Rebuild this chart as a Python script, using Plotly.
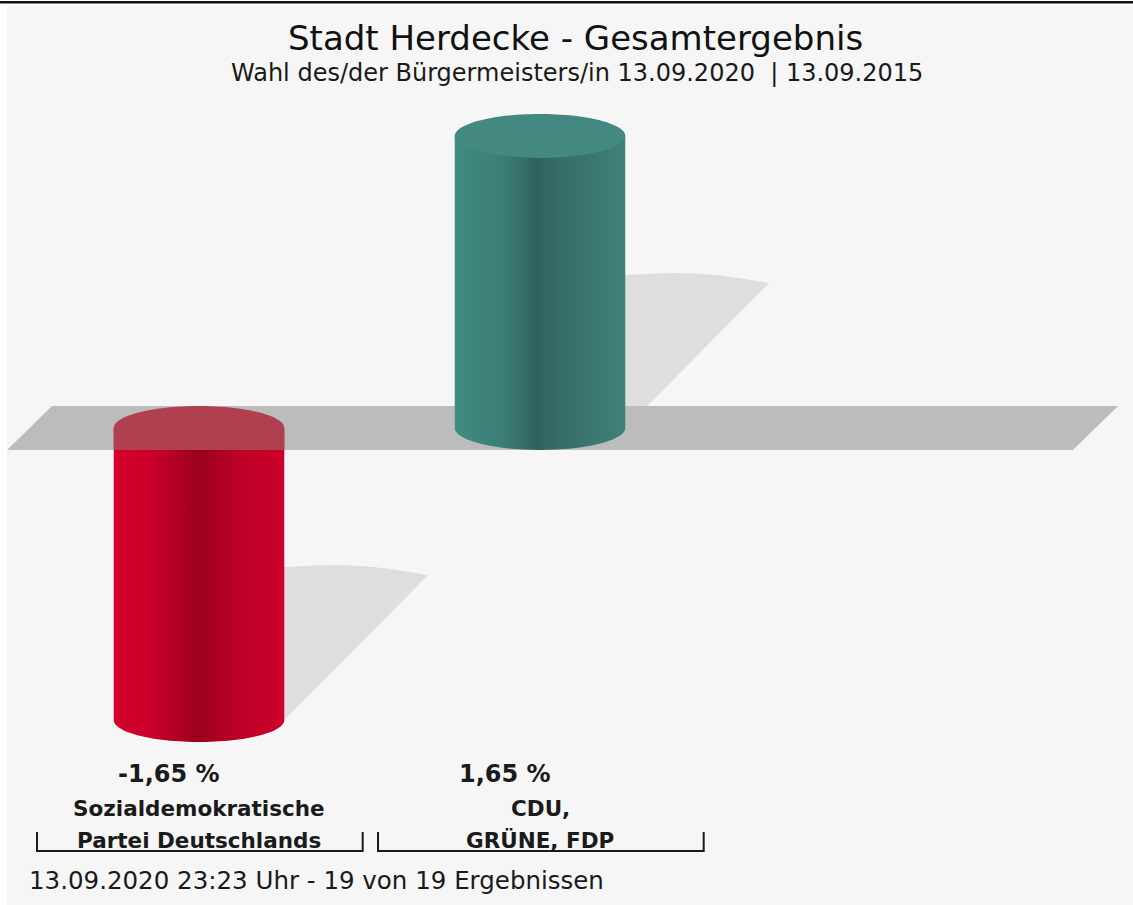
import numpy as np
import plotly.graph_objects as go

W, H = 1133, 905

title = "Stadt Herdecke - Gesamtergebnis"
subtitle = "Wahl des/der Bürgermeisters/in 13.09.2020\u00a0 | 13.09.2015"
footer = "13.09.2020 23:23 Uhr - 19 von 19 Ergebnissen"

# parties (label lines), change vs. 2015 in percentage points
party_lines = [["Sozialdemokratische", "Partei Deutschlands"], ["CDU,", "GRÜNE, FDP"]]
diff_values = [-1.65, 1.65]
value_labels = ["-1,65 %", "1,65 %"]

body_scales = [
    [[0, "#d3002b"], [0.2, "#cc0029"], [0.5, "#9b001f"], [0.75, "#bd0026"], [1, "#cd0029"]],
    [[0, "#418c83"], [0.3, "#3a7c74"], [0.48, "#2f625e"], [0.62, "#356d68"], [1, "#40817a"]],
]
cap_colors = ["#b0404f", "#438981"]

# axis ranges chosen so 1 category step ~341px and 1 %-point ~177px
X_RANGE = [-0.5836, 2.739]
Y_RANGE = [-2.695, 2.418]

RX, RY = 0.25, 0.124          # cylinder radius / ellipse half height
PLANE_X = (-0.563, 2.563)      # front edge of the zero plane
PLANE_DX = 0.132               # depth offset of the plane
SH_W, SH_TL, SH_TR = 0.422, 0.864, 0.819


def py(px):
    return 1 - px / H


fig = go.Figure()
t_low = np.linspace(np.pi, 2 * np.pi, 60)
t_top = np.linspace(0, np.pi, 60)
t_all = np.linspace(0, 2 * np.pi, 120)

# shadows behind the cylinders
for i, v in enumerate(diff_values):
    xr = i + RX
    lo = min(0, v)
    s = np.linspace(0, 1, 30)
    ax = xr + SH_W * s
    ay = lo + SH_TL + (SH_TR - SH_TL) * s + 0.03 * np.sin(np.pi * s)
    xs = [xr - 0.03] + list(ax) + [xr, xr - 0.03]
    ys = [lo + SH_TL] + list(ay) + [lo, lo]
    fig.add_trace(go.Scatter(x=xs, y=ys, fill="toself", fillcolor="#dedede",
                             mode="none", hoverinfo="skip"))

# zero plane
fig.add_trace(go.Scatter(
    x=[PLANE_X[0], PLANE_X[1], PLANE_X[1] + PLANE_DX, PLANE_X[0] + PLANE_DX, PLANE_X[0]],
    y=[-RY, -RY, RY, RY, -RY],
    fill="toself", fillcolor="#bcbcbc", mode="none", hoverinfo="skip"))

# cylinders
for i, v in enumerate(diff_values):
    up, lo = max(0, v), min(0, v)
    xs = [i - RX, i - RX] + list(i + RX * np.cos(t_low)) + [i + RX, i - RX]
    ys = [up, lo] + list(lo + RY * np.sin(t_low)) + [up, up]
    fig.add_trace(go.Scatter(x=xs, y=ys, fill="toself", mode="none",
                             fillgradient=dict(type="horizontal", colorscale=body_scales[i]),
                             hoverinfo="skip"))
    if v > 0:
        cx = list(i + RX * np.cos(t_all))
        cy = list(up + RY * np.sin(t_all))
    else:
        cx = list(i + RX * np.cos(t_top)) + [i - RX, i + RX, i + RX]
        cy = list(RY * np.sin(t_top)) + [-RY, -RY, 0]
    fig.add_trace(go.Scatter(x=cx, y=cy, fill="toself", fillcolor=cap_colors[i],
                             mode="none", hoverinfo="skip"))

# brackets under the party names
bx, by = [], []
y_line, y_tick = (428 - 851) / 177, (428 - 832) / 177
for i in range(len(diff_values)):
    bx += [i - 0.475, i - 0.475, i + 0.48, i + 0.48, None]
    by += [y_tick, y_line, y_line, y_tick, None]
fig.add_trace(go.Scatter(x=bx, y=by, mode="lines", line=dict(color="#1a1a1a", width=2),
                         hoverinfo="skip"))

font = "DejaVu Sans, Liberation Sans, Arial"
ann = [
    dict(text=title, xref="paper", yref="paper", x=575 / W, y=py(38),
         font=dict(size=34, color="#111111")),
    dict(text=subtitle, xref="paper", yref="paper", x=577 / W, y=py(73),
         font=dict(size=24, color="#1a1a1a")),
    dict(text=footer, xref="paper", yref="paper", x=27 / W, y=py(880), xanchor="left",
         font=dict(size=24.5, color="#1a1a1a")),
]
for i, v in enumerate(diff_values):
    ann.append(dict(text=value_labels[i], xref="x", yref="paper", x=i - RX + 0.006,
                    y=py(774), xanchor="left",
                    font=dict(size=24, color="#1a1a1a", weight="bold")))
    for k, line in enumerate(party_lines[i]):
        ann.append(dict(text=line, xref="x", yref="paper", x=i, y=py(808 + 32 * k),
                        font=dict(size=21.5, color="#1a1a1a", weight="bold")))
for a in ann:
    a.setdefault("xanchor", "center")
    a["yanchor"] = "middle"
    a["showarrow"] = False
    a["font"]["family"] = font

fig.update_layout(
    width=W, height=H,
    margin=dict(l=0, r=0, t=0, b=0),
    paper_bgcolor="#f6f6f6", plot_bgcolor="#f6f6f6",
    showlegend=False,
    annotations=ann,
    xaxis=dict(range=X_RANGE, visible=False, fixedrange=True),
    yaxis=dict(range=Y_RANGE, visible=False, fixedrange=True),
    shapes=[
        dict(type="rect", xref="paper", yref="paper", x0=0, x1=7 / W, y0=0, y1=1,
             fillcolor="white", line_width=0),
        dict(type="rect", xref="paper", yref="paper", x0=0, x1=1, y0=py(6), y1=1,
             fillcolor="white", line_width=0),
        dict(type="rect", xref="paper", yref="paper", x0=0, x1=1, y0=py(3.5), y1=py(1),
             fillcolor="#111111", line_width=0),
    ],
)

fig.write_html("out.html", config={"displayModeBar": False},
               post_script="document.body.style.margin='0';document.body.style.overflow='hidden';")
